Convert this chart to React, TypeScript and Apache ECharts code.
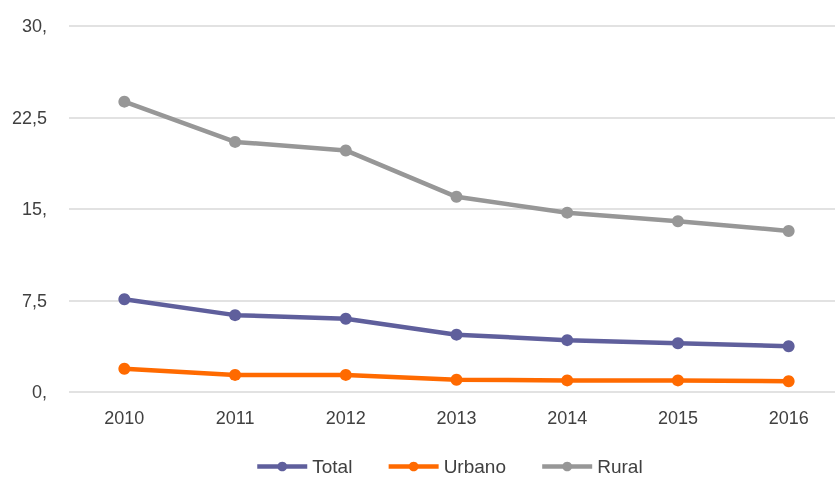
import React, { useEffect, useRef } from "react";
import * as echarts from "echarts";

const years = ["2010", "2011", "2012", "2013", "2014", "2015", "2016"];
const total = [7.6, 6.3, 6.0, 4.7, 4.25, 4.0, 3.75];
const urbano = [1.9, 1.4, 1.4, 1.0, 0.95, 0.95, 0.88];
const rural = [23.8, 20.5, 19.8, 16.0, 14.7, 14.0, 13.2];
const yTicks = [0, 7.5, 15, 22.5, 30];

const FONT = "'Liberation Sans Narrow', 'Arial Narrow', 'Liberation Sans', Arial, sans-serif";

function fmt(v: number): string {
  const s = String(v).replace(".", ",");
  return Number.isInteger(v) ? s + "," : s;
}

export default function App() {
  const ref = useRef<HTMLDivElement>(null);
  useEffect(() => {
    if (!ref.current) return;
    const chart = echarts.init(ref.current, undefined, { renderer: "svg" });
    const mk = (name: string, data: number[], color: string) => ({
      name,
      type: "line",
      data,
      symbol: "circle",
      symbolSize: 12,
      lineStyle: { width: 4.5, color },
      itemStyle: { color },
      emphasis: { disabled: true },
    });
    chart.setOption({
      animation: false,
      textStyle: { fontFamily: FONT },
      grid: {
        left: 69,
        width: 775,
        top: 26,
        bottom: 86,
        containLabel: false,
        outerBoundsMode: "none",
      },
      legend: {
        top: 452,
        left: 250,
        itemWidth: 50,
        itemHeight: 12,
        itemGap: 34,
        lineStyle: { width: 4.5 },
        textStyle: { fontSize: 19, color: "#404040", fontFamily: FONT },
        data: ["Total", "Urbano", "Rural"].map((n) => ({ name: n })),
      },
      xAxis: {
        type: "category",
        data: years,
        boundaryGap: true,
        axisLine: { show: false },
        axisTick: { show: false },
        axisLabel: { fontSize: 18, color: "#404040", margin: 17, fontFamily: FONT },
      },
      yAxis: {
        type: "value",
        min: yTicks[0],
        max: yTicks[yTicks.length - 1],
        interval: 7.5,
        axisLine: { show: false },
        axisTick: { show: false },
        splitLine: { lineStyle: { color: "#d9d9d9", width: 1.5 } },
        axisLabel: {
          fontSize: 18,
          color: "#404040",
          margin: 22,
          fontFamily: FONT,
          formatter: (v: number) => fmt(v),
        },
      },
      series: [
        mk("Total", total, "#5f5f9c"),
        mk("Urbano", urbano, "#ff6a00"),
        mk("Rural", rural, "#979797"),
      ],
    });
    return () => chart.dispose();
  }, []);
  return (
    <div
      ref={ref}
      style={{ position: "fixed", left: 0, top: 0, width: 835, height: 478, overflow: "hidden" }}
    />
  );
}
